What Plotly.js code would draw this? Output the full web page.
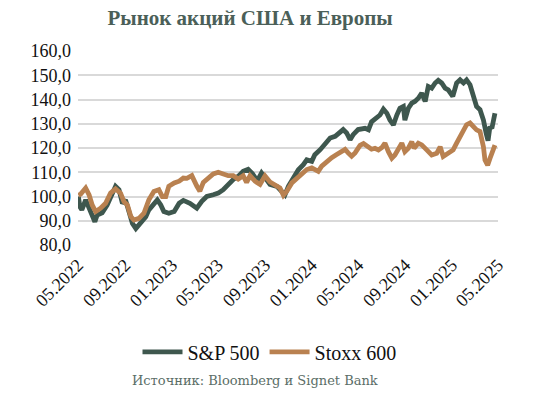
<!DOCTYPE html>
<html>
<head>
<meta charset="utf-8">
<script src="https://cdn.plot.ly/plotly-3.0.1.min.js"></script>
<style>html,body{margin:0;padding:0;background:#fff;}#chart{width:539px;height:399px;}</style>
</head>
<body>
<div id="chart"></div>
<script>
var spxDates = ["2022-05-02","2022-05-06","2022-05-11","2022-05-21","2022-05-30","2022-06-14","2022-06-20","2022-07-03","2022-07-16","2022-07-30","2022-08-07","2022-08-16","2022-08-25","2022-09-02","2022-09-11","2022-09-20","2022-09-29","2022-10-07","2022-10-16","2022-10-25","2022-11-02","2022-11-15","2022-11-24","2022-12-03","2022-12-11","2022-12-24","2023-01-07","2023-01-20","2023-01-31","2023-02-17","2023-03-07","2023-03-20","2023-04-02","2023-04-19","2023-05-02","2023-05-15","2023-05-28","2023-06-10","2023-06-23","2023-07-06","2023-07-19","2023-07-30","2023-08-12","2023-08-23","2023-09-02","2023-09-14","2023-10-02","2023-10-15","2023-10-23","2023-11-01","2023-11-14","2023-11-27","2023-12-10","2023-12-19","2024-01-01","2024-01-09","2024-01-23","2024-02-05","2024-02-18","2024-03-02","2024-03-15","2024-03-23","2024-04-01","2024-04-10","2024-04-18","2024-05-01","2024-05-19","2024-05-28","2024-06-05","2024-06-18","2024-06-27","2024-07-06","2024-07-15","2024-07-23","2024-08-01","2024-08-10","2024-08-18","2024-08-27","2024-08-31","2024-09-09","2024-09-18","2024-09-26","2024-10-05","2024-10-14","2024-10-23","2024-10-31","2024-11-09","2024-11-18","2024-11-26","2024-12-05","2024-12-14","2024-12-22","2025-01-03","2025-01-13","2025-01-22","2025-01-31","2025-02-08","2025-02-17","2025-02-26","2025-03-06","2025-03-15","2025-03-24","2025-03-31","2025-04-05","2025-04-10","2025-04-15","2025-04-23"];
var spxValues = [100,95.8,94.5,98.6,95.2,89.6,92.4,93.3,96.5,101.4,104.2,102.8,97.2,98.6,93.8,88.9,86.8,88.2,89.6,91.7,94.5,97.2,98.6,96.5,93.8,93.1,93.8,97.2,98.4,97.2,95.2,98,100,100.7,101.4,102.8,104.9,107,108.3,110.4,111.2,109.5,106.5,109.7,107.6,105,104.2,102.1,100.7,104.2,107.6,111,113.1,115.1,114.5,117.2,119.3,122,124.1,124.8,126.9,127.6,126.2,123.4,125.5,127.6,128.1,127.5,130.8,132.2,133.6,136,134.3,131.5,129.5,133.6,136.4,137.1,131.5,136.4,138.5,139.2,140.5,142.6,139.2,145.4,144.7,146.8,147.9,146.8,144.7,144,141.3,146.8,148.1,146.8,148.1,146.1,141.3,137.1,135.8,131.5,126.1,123,128.8,128.1,134.3];

var stoxxDates = ["2022-05-02","2022-05-08","2022-05-21","2022-05-30","2022-06-07","2022-06-16","2022-06-29","2022-07-12","2022-07-25","2022-08-07","2022-08-20","2022-08-29","2022-09-07","2022-09-16","2022-09-24","2022-10-07","2022-10-20","2022-11-02","2022-11-15","2022-11-28","2022-12-07","2022-12-16","2022-12-24","2023-01-07","2023-01-20","2023-01-31","2023-02-09","2023-02-22","2023-03-07","2023-03-15","2023-03-24","2023-04-06","2023-04-19","2023-05-02","2023-05-15","2023-05-28","2023-06-10","2023-06-23","2023-07-06","2023-07-15","2023-07-24","2023-08-06","2023-08-19","2023-09-01","2023-09-14","2023-09-27","2023-10-10","2023-10-19","2023-10-28","2023-11-10","2023-11-23","2023-12-06","2023-12-19","2024-01-01","2024-01-09","2024-01-18","2024-01-27","2024-02-09","2024-02-22","2024-03-06","2024-03-19","2024-03-28","2024-04-05","2024-04-14","2024-04-23","2024-05-06","2024-05-15","2024-05-28","2024-06-05","2024-06-14","2024-06-23","2024-07-02","2024-07-10","2024-07-19","2024-07-28","2024-08-05","2024-08-14","2024-08-23","2024-08-31","2024-09-09","2024-09-18","2024-09-24","2024-10-05","2024-10-14","2024-10-27","2024-11-09","2024-11-22","2024-12-01","2024-12-09","2024-12-22","2025-01-04","2025-01-13","2025-01-22","2025-01-31","2025-02-08","2025-02-17","2025-02-26","2025-03-06","2025-03-15","2025-03-24","2025-03-28","2025-04-04","2025-04-10","2025-04-20","2025-04-23"];
var stoxxValues = [100.5,101,103.5,100.7,96.5,93.8,95.2,97.2,101.4,103.1,101.4,97.9,96.5,91.7,90.3,91,93.1,98.6,102.1,102.8,100,100,104.2,105.6,106.3,107.6,107.5,108.6,104.3,102.2,105.8,107.9,109.3,110,109.3,108.6,108.6,107.2,108.6,105.8,108.6,106.3,105,108.5,106,104.8,103.5,100.5,102.2,105.6,107.6,109.7,111.1,111.8,111.1,110.4,112.5,114.5,116,117.3,118.7,119.4,118,116.6,118,121.1,121.8,120.3,119.5,119.9,119.2,120.2,122,118.5,115.8,117.1,119.9,122,118.5,119.9,122.6,119.9,122,121.3,119.2,117.1,117.8,120.5,116.5,117.8,119.2,122,124.8,127.5,129.6,130.3,128.9,127.5,126.8,120.5,115,112.9,115.7,119.9,121.2];

var seriesNames = ["S&P 500", "Stoxx 600"];
var yTickVals = [80, 90, 100, 110, 120, 130, 140, 150, 160];
var yTickText = ["80,0", "90,0", "100,0", "110,0", "120,0", "130,0", "140,0", "150,0", "160,0"];
var chartTitle = "Рынок акций США и Европы";
var sourceText = "Источник: Bloomberg и Signet Bank";

var serif = "'Liberation Serif', 'Times New Roman', Times, serif";

var traces = [
  {x: spxDates, y: spxValues, name: seriesNames[0], type: "scatter", mode: "lines",
   line: {color: "#3e574e", width: 4.8}},
  {x: stoxxDates, y: stoxxValues, name: seriesNames[1], type: "scatter", mode: "lines",
   line: {color: "#b98150", width: 4.8}}
];

var layout = {
  width: 539, height: 399,
  font: {family: serif, color: "#111"},
  margin: {l: 78, r: 41, t: 51, b: 154},
  paper_bgcolor: "#ffffff", plot_bgcolor: "#ffffff",
  title: {text: "<b>" + chartTitle + "</b>", font: {family: serif, size: 21, color: "#4b5f58"},
          xref: "container", x: 0.464, xanchor: "center", yref: "container", y: 0.955, yanchor: "middle"},
  xaxis: {
    type: "date", range: ["2022-05-01", "2025-05-01"],
    tick0: "2022-05-01", dtick: "M4", tickformat: "%m.%Y",
    tickangle: -45, showgrid: false, zeroline: false, showline: false, ticks: "",
    tickfont: {family: serif, size: 18, color: "#111"}, ticklabelstandoff: 5
  },
  yaxis: {
    range: [80, 160], tickvals: yTickVals, ticktext: yTickText,
    showgrid: true, gridcolor: "#d9d9d9", gridwidth: 2, zeroline: false, showline: false, ticks: "",
    tickfont: {family: serif, size: 18, color: "#111"}, ticklabelstandoff: 6
  },
  showlegend: true,
  legend: {orientation: "h", xref: "container", x: 0.5, xanchor: "center", yref: "container", y: 0.118, yanchor: "middle",
           font: {family: serif, size: 20, color: "#111"}, itemwidth: 40, tracegroupgap: 0},
  annotations: [{text: sourceText, xref: "paper", yref: "paper", x: 0.421, y: -0.70,
                 xanchor: "center", yanchor: "middle", showarrow: false,
                 font: {family: "DejaVu Serif", size: 13, color: "#5b6e67"}}]
};

Plotly.newPlot("chart", traces, layout, {displayModeBar: false, staticPlot: true});
</script>
</body>
</html>
